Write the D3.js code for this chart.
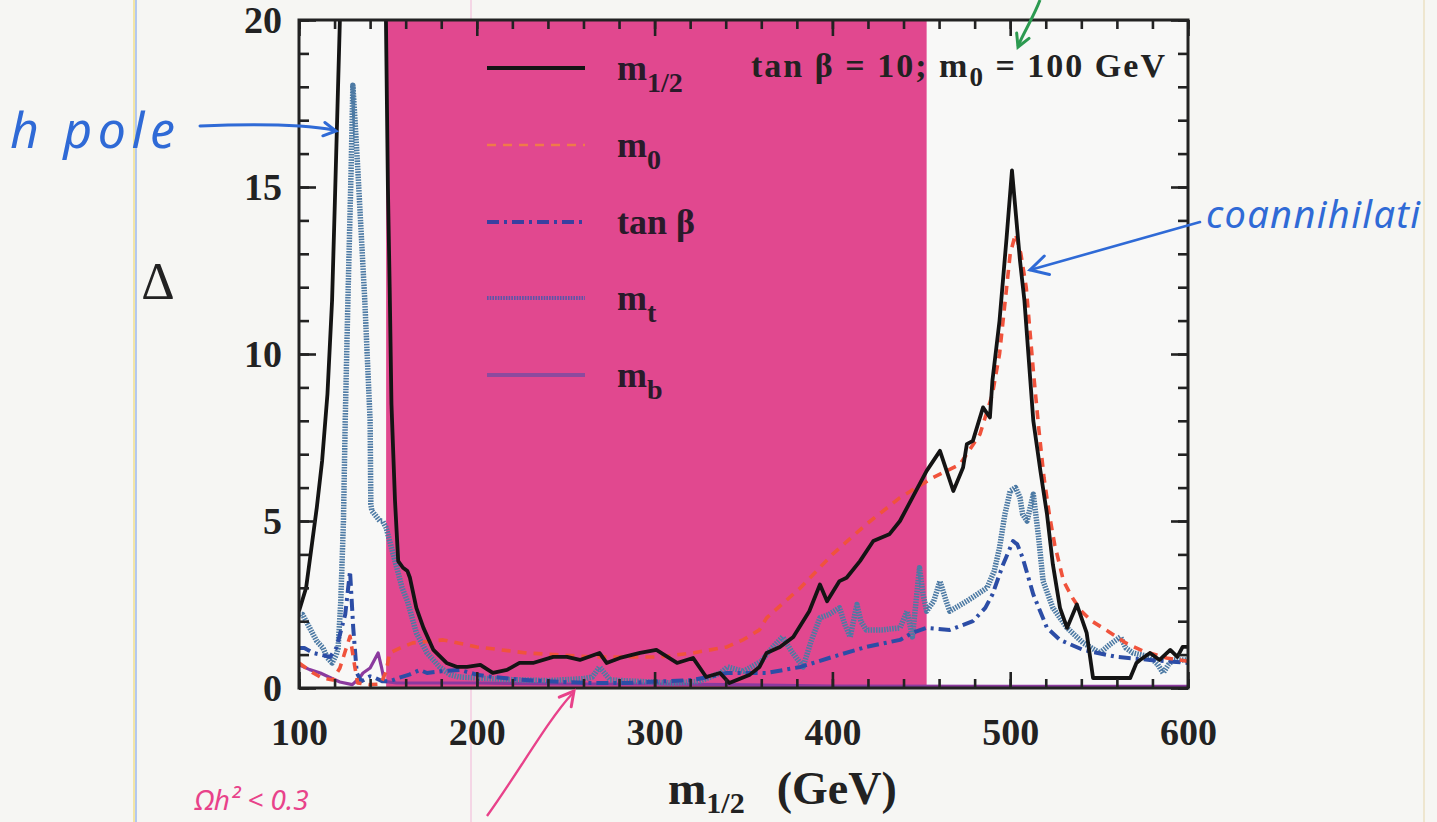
<!DOCTYPE html>
<html>
<head>
<meta charset="utf-8">
<script src="https://cdn.jsdelivr.net/npm/d3@7"></script>
<style>
  html, body { margin: 0; padding: 0; background: #f6f6f3; }
  svg { display: block; }
  .tick text { font-family: "Liberation Serif", "Times New Roman", serif; font-weight: bold; fill: #222; }
</style>
</head>
<body>
<svg id="chart" width="1437" height="822"></svg>
<script>
// ---- data: fine-tuning measure Delta versus m_1/2 (tan beta = 10, m0 = 100 GeV) ----
const xTicks = [100, 200, 300, 400, 500, 600];
const yTicks = [0, 5, 10, 15, 20];
const shadedRange = [149, 453];

const m12X = [100,104,107,110,113,116,118.6,120.2,121.7,123,124.5,126,147,148.3,148.9,150,151,152,154,155.8,158.5,161,162.4,166,170,175.6,183,189,194.5,202,209,217,224,231.6,243,250.7,258,269,273,280.5,291.8,301,312.6,321.6,329,336.8,342,353.6,359,363,370.5,378,387,393,397,404,408,415.5,423,432,438,445,453,460.5,468,473.5,475.6,479,484.7,488.6,490,494,498,501,505.5,508,513,517,520.7,524,528,532,537.5,543,546.6,549,567.5,571,573,578.6,584,590,594,597,600];
const m12Y = [2.3,3.0,4.2,5.4,6.8,8.8,11.6,14.6,17.5,20,23,26,26,23,20,15,12,8.5,5.6,3.8,3.6,3.5,3.3,2.4,1.8,1.14,0.75,0.63,0.63,0.69,0.45,0.54,0.75,0.75,0.93,0.93,0.84,1.05,0.75,0.9,1.05,1.14,0.75,0.9,0.33,0.45,0.15,0.4,0.63,1.05,1.23,1.53,2.3,3.1,2.6,3.2,3.3,3.8,4.4,4.6,5.0,5.7,6.5,7.1,5.9,6.6,7.3,7.4,8.4,8.1,9.2,11,13.5,15.5,12.8,11.6,8.0,6.5,5.2,3.7,2.4,1.8,2.5,1.65,0.3,0.3,0.3,0.75,0.84,1.05,0.84,1.14,0.93,1.23,1.23];

const m0X = [100,104,108,113,119,123,126,128.7,130,131.5,133,140,146,149,151,157,164,181,200,228,265,303,321.6,340.7,350,359,363,382,400,419,438,456.6,471.8,483,490,494,497,500,503,506,509,513,516,519,522,525,530,535,540,546,555,565,575,588,600];
const m0Y = [0.75,0.6,0.45,0.3,0.24,0.6,1.1,1.55,1.1,0.6,0.15,0.1,0.12,0.5,1.05,1.2,1.35,1.44,1.23,1.05,0.93,0.93,1.05,1.23,1.45,1.74,2.1,3.0,4.0,4.9,5.7,6.3,6.7,7.6,8.8,10,11.5,13,13.6,13,12,9.5,7.8,6.3,5.2,4.3,3.2,2.7,2.3,2.0,1.7,1.35,1.1,0.9,0.8];

const tanbX = [100,103,108,112,117.5,121,126,128.7,130.5,132.5,135,140,143,147,151,156,162,168,172,180,190.5,200,209,225,247,265,284,305,321.6,330,340.7,363,382,400,419,438,445,453,466,479,486,490,496,501.6,504,507,513,520.7,528,541,560,578.6,600];
const tanbY = [1.2,1.2,1.05,1.0,0.93,1.2,2.2,3.5,1.8,0.45,0.2,0.35,0.3,0.2,0.2,0.3,0.4,0.54,0.45,0.5,0.54,0.4,0.33,0.25,0.18,0.15,0.15,0.2,0.24,0.33,0.45,0.45,0.63,0.93,1.23,1.44,1.65,1.8,1.74,2.0,2.4,2.8,3.7,4.4,4.3,3.9,2.8,1.8,1.44,1.14,0.93,0.84,0.75];

const mtX = [100,102,106,110,113.5,116,118.6,121,122,123.5,125,126,127.5,129.3,130.3,131.5,133,137,140,140.4,141,145.5,147,149,151,155,158,161,166,172,179,185,190,200,220,240,260,265,269,275,290,310,325,337,341,350,360,366,372,377,383.5,388,393,398,404,407,410,413.8,416,419,428,438,442,445,449,451,453,457,460.5,464,466,475.6,487,491,494,497,500,503,505.5,507,509.5,513,516,518.5,524,532,541,550.5,556,562,565,569,578.6,583,586,589,591.6,600];
const mtY = [2.2,2.2,1.8,1.4,1.2,0.9,0.75,1.0,1.2,2.6,5.0,8.0,11.6,15.5,18.05,17,15.6,11.6,8.0,5.5,5.3,5.0,5.0,4.8,4.4,3.6,3.0,2.6,1.65,1.05,0.63,0.4,0.33,0.3,0.25,0.22,0.28,0.33,0.63,0.24,0.2,0.15,0.2,0.45,0.63,0.5,0.8,1.2,1.53,1.1,0.63,1.4,2.1,2.2,2.4,1.9,1.53,2.5,2.0,1.74,1.74,1.8,2.3,1.53,3.6,2.8,2.3,2.6,3.2,2.6,2.3,2.6,3.0,3.5,4.2,5.2,5.9,6.0,5.7,5.2,5.0,5.8,4.5,3.2,2.4,1.8,1.35,1.05,1.3,1.53,1.2,1.05,0.93,0.7,0.45,0.7,0.84,0.84];

const mbX = [100,106,112,118,123,130,134,136,140,144.5,146.5,148,155,200,250,300,340,400,500,600];
const mbY = [0.7,0.55,0.45,0.3,0.18,0.1,0.3,0.45,0.6,1.05,0.6,0.2,0.15,0.15,0.12,0.12,0.1,0.06,0.05,0.05];

const seriesNames = ["m1/2", "m0", "tan β", "mt", "mb"];

// ---- layout ----
const svg = d3.select("#chart");
const plot = { left: 299, right: 1188, top: 20, bottom: 688 };
const serif = '"Liberation Serif", "Times New Roman", serif';
const hand = '"Noto Sans", "Open Sans", sans-serif';

const x = d3.scaleLinear().domain([100, 600]).range([plot.left, plot.right]);
const y = d3.scaleLinear().domain([0, 20]).range([plot.bottom, plot.top]);

// page decorations: binder margin and faint ruled lines
svg.append("rect").attr("width", 1437).attr("height", 822).attr("fill", "#f6f6f3");
svg.append("line").attr("x1", 134).attr("x2", 134).attr("y1", 0).attr("y2", 822)
  .attr("stroke", "#f2df8a").attr("stroke-width", 1.5);
svg.append("line").attr("x1", 136).attr("x2", 136).attr("y1", 0).attr("y2", 822)
  .attr("stroke", "#9db8ee").attr("stroke-width", 1.5);
svg.append("line").attr("x1", 471).attr("x2", 471).attr("y1", 0).attr("y2", 822)
  .attr("stroke", "#f4c2dc").attr("stroke-width", 1.2);
svg.append("line").attr("x1", 1424).attr("x2", 1424).attr("y1", 0).attr("y2", 822)
  .attr("stroke", "#eee6cf").attr("stroke-width", 2);

// plot background
svg.append("rect")
  .attr("x", plot.left).attr("y", plot.top)
  .attr("width", plot.right - plot.left).attr("height", plot.bottom - plot.top)
  .attr("fill", "#f8f8f7");

svg.append("defs").append("clipPath").attr("id", "plotClip")
  .append("rect")
  .attr("x", plot.left).attr("y", plot.top)
  .attr("width", plot.right - plot.left).attr("height", plot.bottom - plot.top);

// shaded band
svg.append("rect")
  .attr("x", x(shadedRange[0])).attr("y", plot.top)
  .attr("width", x(shadedRange[1]) - x(shadedRange[0]))
  .attr("height", plot.bottom - plot.top)
  .attr("fill", "#e1488f");

// ---- curves ----
const line = d3.line().x(d => x(d[0])).y(d => y(d[1]));
const curves = svg.append("g").attr("clip-path", "url(#plotClip)");
const styles = {
  "m1/2": { stroke: "#141414", width: 3.8, dash: null },
  "m0":   { stroke: "#f0533c", width: 3.6, dash: "9,7" },
  "tan β": { stroke: "#2c4da6", width: 4, dash: "12,5,3,5" },
  "mt":   { stroke: "#4d7aa4", width: 5.5, dash: "1.6,1.1" },
  "mb":   { stroke: "#8b3a9e", width: 3.2, dash: null }
};
const seriesData = {
  "m1/2": d3.zip(m12X, m12Y),
  "m0": d3.zip(m0X, m0Y),
  "tan β": d3.zip(tanbX, tanbY),
  "mt": d3.zip(mtX, mtY),
  "mb": d3.zip(mbX, mbY)
};
["mb", "mt", "tan β", "m0", "m1/2"].forEach(name => {
  const s = styles[name];
  curves.append("path")
    .datum(seriesData[name])
    .attr("d", line)
    .attr("fill", "none")
    .attr("stroke", s.stroke)
    .attr("stroke-width", s.width)
    .attr("stroke-dasharray", s.dash)
    .attr("stroke-linejoin", "round");
});

// ---- axes (ticks point inward on all four sides) ----
const xMinor = d3.range(100, 601, 20);
const yMinor = d3.range(0, 21, 1);
function styleAxis(g) {
  g.select(".domain").remove();
  g.selectAll(".tick line").attr("stroke", "#222").attr("stroke-width", 2.6);
}
svg.append("g").attr("transform", `translate(0,${plot.bottom})`)
  .call(d3.axisBottom(x).tickValues(xMinor).tickSize(-9).tickFormat(""))
  .call(styleAxis);
svg.append("g").attr("transform", `translate(0,${plot.top})`)
  .call(d3.axisTop(x).tickValues(xMinor).tickSize(-9).tickFormat(""))
  .call(styleAxis);
svg.append("g").attr("transform", `translate(${plot.left},0)`)
  .call(d3.axisLeft(y).tickValues(yMinor).tickSize(-10).tickFormat(""))
  .call(styleAxis);
svg.append("g").attr("transform", `translate(${plot.right},0)`)
  .call(d3.axisRight(y).tickValues(yMinor).tickSize(-10).tickFormat(""))
  .call(styleAxis);

const xAxis = svg.append("g").attr("transform", `translate(0,${plot.bottom})`)
  .call(d3.axisBottom(x).tickValues(xTicks).tickSize(-16).tickPadding(30).tickFormat(d3.format("d")))
  .call(styleAxis);
xAxis.selectAll(".tick text").attr("font-size", 38).attr("font-family", serif);
svg.append("g").attr("transform", `translate(0,${plot.top})`)
  .call(d3.axisTop(x).tickValues(xTicks).tickSize(-16).tickFormat(""))
  .call(styleAxis);
const yAxis = svg.append("g").attr("transform", `translate(${plot.left},0)`)
  .call(d3.axisLeft(y).tickValues(yTicks).tickSize(-17).tickPadding(17).tickFormat(d3.format("d")))
  .call(styleAxis);
yAxis.selectAll(".tick text").attr("font-size", 38).attr("font-family", serif);
svg.append("g").attr("transform", `translate(${plot.right},0)`)
  .call(d3.axisRight(y).tickValues(yTicks).tickSize(-17).tickFormat(""))
  .call(styleAxis);

// frame
svg.append("rect")
  .attr("x", plot.left).attr("y", plot.top)
  .attr("width", plot.right - plot.left).attr("height", plot.bottom - plot.top)
  .attr("fill", "none").attr("stroke", "#222").attr("stroke-width", 3);

// ---- axis titles ----
svg.append("text").attr("x", 158).attr("y", 299).attr("text-anchor", "middle")
  .attr("font-family", serif).attr("font-size", 52).attr("fill", "#222").text("Δ");

const xt = svg.append("text").attr("x", 668).attr("y", 804)
  .attr("font-family", serif).attr("font-weight", "bold").attr("font-size", 46).attr("fill", "#222");
xt.append("tspan").text("m");
xt.append("tspan").attr("font-size", 30).attr("dy", 9).text("1/2");
xt.append("tspan").attr("dy", -9).attr("dx", 32).text("(GeV)");

// ---- legend ----
const legendRows = [
  { name: "m1/2", main: "m", sub: "1/2", y: 68, stroke: "#141414" },
  { name: "m0", main: "m", sub: "0", y: 145, stroke: "#f07a4a" },
  { name: "tan β", main: "tan β", sub: "", y: 222, stroke: "#3a3fa0" },
  { name: "mt", main: "m", sub: "t", y: 298, stroke: "#5c56a8" },
  { name: "mb", main: "m", sub: "b", y: 375, stroke: "#8d4a9e" }
];
const legend = svg.append("g");
legendRows.forEach(r => {
  const s = styles[r.name];
  legend.append("line").attr("x1", 487).attr("x2", 585).attr("y1", r.y).attr("y2", r.y)
    .attr("stroke", r.stroke).attr("stroke-width", r.name === "m0" ? 2.6 : 4)
    .attr("stroke-dasharray", s.dash);
  const t = legend.append("text").attr("x", 617).attr("y", r.y + 12)
    .attr("font-family", serif).attr("font-weight", "bold").attr("font-size", 36).attr("fill", "#2a1a2a");
  t.append("tspan").text(r.main);
  if (r.sub) t.append("tspan").attr("font-size", 28).attr("dy", 12).text(r.sub);
});

// parameter note
const note = svg.append("text").attr("x", 751).attr("y", 77)
  .attr("font-family", serif).attr("font-weight", "bold").attr("font-size", 34).attr("fill", "#222")
  .attr("textLength", 414).attr("lengthAdjust", "spacing");
note.append("tspan").text("tan β = 10;  m");
note.append("tspan").attr("font-size", 27).attr("dy", 9).text("0");
note.append("tspan").attr("dy", -9).text(" = 100 GeV");

// ---- hand-written annotations ----
const blue = "#2f6ad6";
function arrowHead(g, tipX, tipY, angle, color, len) {
  const a1 = angle + Math.PI - 0.5, a2 = angle + Math.PI + 0.5;
  g.append("path")
    .attr("d", `M${tipX + len * Math.cos(a1)},${tipY + len * Math.sin(a1)} L${tipX},${tipY} L${tipX + len * Math.cos(a2)},${tipY + len * Math.sin(a2)}`)
    .attr("fill", "none").attr("stroke", color).attr("stroke-width", 3).attr("stroke-linecap", "round");
}
const notes = svg.append("g");
notes.append("text").attr("x", 10).attr("y", 148)
  .attr("font-family", hand).attr("font-style", "italic").attr("font-size", 50)
  .attr("fill", blue).attr("textLength", 165).text("h  pole");
notes.append("path").attr("d", "M200,126 C250,124 300,124 334,130")
  .attr("fill", "none").attr("stroke", blue).attr("stroke-width", 3).attr("stroke-linecap", "round");
arrowHead(notes, 336, 131, 0.15, blue, 14);

notes.append("text").attr("x", 1206).attr("y", 228)
  .attr("font-family", hand).attr("font-style", "italic").attr("font-size", 38)
  .attr("fill", blue).attr("textLength", 214).text("coannihilati");
notes.append("path").attr("d", "M1200,222 L1030,270")
  .attr("fill", "none").attr("stroke", blue).attr("stroke-width", 2.6).attr("stroke-linecap", "round");
arrowHead(notes, 1030, 270, Math.atan2(48, -170), blue, 20);

const green = "#2c9a50";
notes.append("path").attr("d", "M1040,0 C1034,16 1024,32 1018,46")
  .attr("fill", "none").attr("stroke", green).attr("stroke-width", 3);
arrowHead(notes, 1018, 47, Math.atan2(14, -6), green, 14);

const pink = "#e8428a";
notes.append("path").attr("d", "M487,816 C520,770 548,720 572,694")
  .attr("fill", "none").attr("stroke", pink).attr("stroke-width", 2.4);
arrowHead(notes, 574, 691, Math.atan2(-30, 24), pink, 16);
notes.append("text").attr("x", 195).attr("y", 810)
  .attr("font-family", hand).attr("font-style", "italic").attr("font-size", 28)
  .attr("fill", pink).text("Ωh² < 0.3");
</script>
</body>
</html>
